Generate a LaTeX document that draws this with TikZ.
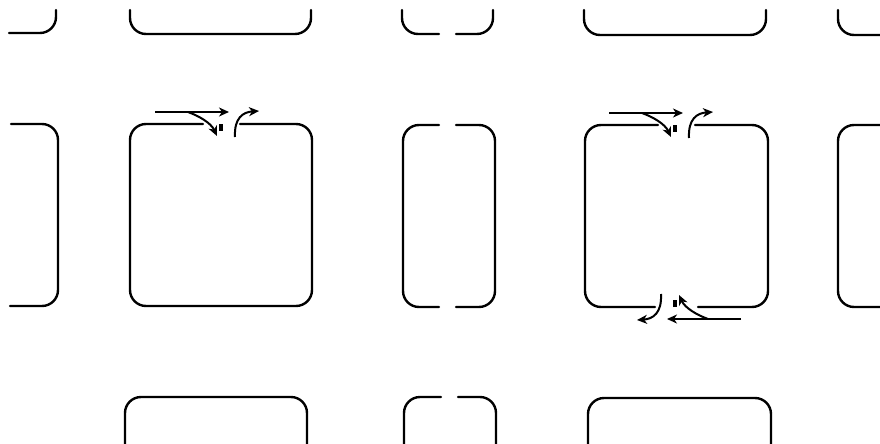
\documentclass[tikz,border=0pt]{standalone}
\usetikzlibrary{arrows.meta}
\tikzset{
  wall/.style={line width=2.4pt, rounded corners=16pt, line cap=round},
  arr/.style={line width=2pt, -{Stealth[length=10pt,width=9pt,inset=3pt]}},
  tickbar/.style={line width=3.6pt}
}
\newcommand{\mygate}[1]{%
  \begin{scope}[#1]
    \coordinate (s1) at (-66,-12); \coordinate (e1) at (8,-12);
    \coordinate (s2) at (-33,-12); \coordinate (e2) at (-4,12);
    \coordinate (s3) at (14,13);   \coordinate (e3) at (38,-13);
    \draw[arr] (s1) -- (e1);
    \draw[arr] (s2) .. controls (-22,-8) and (-10,-1) .. (e2);
    \draw[tickbar] (0,0) -- (0,7);
    \draw[arr] (s3) .. controls (13,-6) and (22,-12) .. (e3);
  \end{scope}}
\begin{document}
\begin{tikzpicture}[x=1pt,y=-1pt]
  \fill[white] (0,0) rectangle (880,444);
  \useasboundingbox (0,0) rectangle (880,444);
  % top row
  \draw[wall] (9,33) -- (56,33) -- (56,10);
  \draw[wall] (130,10) -- (130,34) -- (311,34) -- (311,10);
  \draw[wall] (402,10) -- (402,34) -- (439,34);
  \draw[wall] (456,34) -- (493,34) -- (493,10);
  \draw[wall] (584,10) -- (584,35) -- (766,35) -- (766,10);
  \draw[wall] (838,10) -- (838,35) -- (886,35);
  % middle row
  \draw[wall] (11,124) -- (58,124) -- (58,306) -- (10,306);
  \draw[wall] (203,124) -- (130,124) -- (130,306) -- (312,306) -- (312,124) -- (240,124);
  \draw[wall] (439,125) -- (403,125) -- (403,307) -- (439,307);
  \draw[wall] (456,125) -- (495,125) -- (495,307) -- (456,307);
  \draw[wall] (658,125) -- (585,125) -- (585,307) -- (655,307);
  \draw[wall] (698,307) -- (768,307) -- (768,125) -- (695,125);
  \draw[wall] (886,125) -- (838,125) -- (838,307) -- (886,307);
  % bottom row
  \draw[wall] (125,450) -- (125,397) -- (307,397) -- (307,450);
  \draw[wall] (404,450) -- (404,397) -- (441,397);
  \draw[wall] (458,397) -- (496,397) -- (496,450);
  \draw[wall] (588,450) -- (588,398) -- (771,398) -- (771,450);
  % gates
  \mygate{shift={(221,124)}}
  \mygate{shift={(675,125)}}
  \mygate{shift={(675,307)},rotate=180}
\end{tikzpicture}
\end{document}
